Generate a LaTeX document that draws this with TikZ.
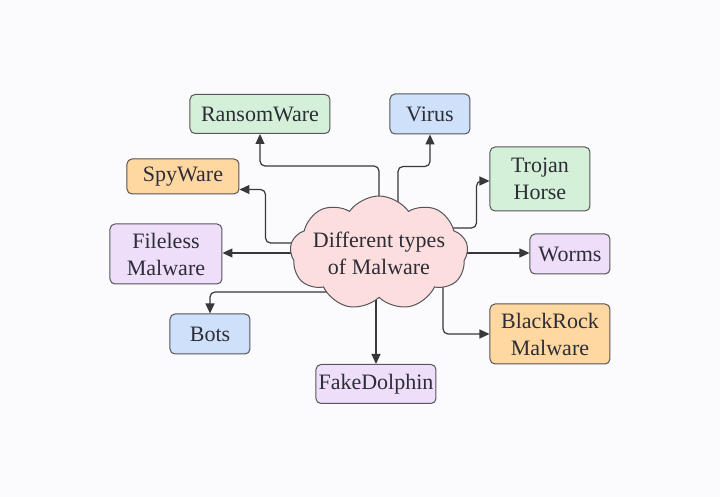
\documentclass[tikz,border=0pt]{standalone}
\usepackage{fontspec}
\setmainfont{Liberation Serif}
\usetikzlibrary{shapes.symbols,arrows.meta,calc,backgrounds}
\definecolor{pagebg}{RGB}{251,250,252}
\definecolor{edgegray}{RGB}{85,85,90}
\definecolor{linegray}{RGB}{55,55,60}
\definecolor{textgray}{RGB}{45,45,55}
\definecolor{mgreen}{RGB}{212,240,216}
\definecolor{mblue}{RGB}{206,224,250}
\definecolor{morange}{RGB}{255,215,160}
\definecolor{mpurple}{RGB}{238,222,250}
\definecolor{mpink}{RGB}{253,222,222}
\begin{document}
\begin{tikzpicture}[x=0.5pt,y=-0.5pt,font=\fontsize{11}{13.5}\selectfont,
  box/.style={draw=edgegray,line width=0.5pt,rounded corners=2.5pt,inner sep=0pt,align=center,text=textgray},
  link/.style={draw=linegray,line width=0.6pt,rounded corners=2.5pt,-{Triangle[length=5pt,width=4.5pt]}}]
\useasboundingbox(0,0)rectangle(720,497);
% centre
\node[cloud,cloud puffs=9,cloud puff arc=110,cloud ignores aspect,draw=edgegray,line width=0.5pt,fill=mpink,text=textgray,align=center,minimum width=89pt,minimum height=57pt,inner xsep=-25pt,inner ysep=-12pt](cloud)at(379,253){Different types\\of Malware};
% kinds
\node[box,fill=mgreen,minimum width=70pt,minimum height=19.5pt](ransom)at(260,114){RansomWare};
\node[box,fill=mblue,minimum width=40pt,minimum height=20pt](virus)at(430,114){Virus};
\node[box,fill=morange,minimum width=56pt,minimum height=17.5pt](spy)at(183,176.5){SpyWare};
\node[box,fill=mgreen,minimum width=50pt,minimum height=32pt](trojan)at(540,179){Trojan\\Horse};
\node[box,fill=mpurple,minimum width=56pt,minimum height=30pt](fileless)at(166,254){Fileless\\Malware};
\node[box,fill=mpurple,minimum width=40pt,minimum height=20pt](worms)at(570,254){Worms};
\node[box,fill=mblue,minimum width=40pt,minimum height=20pt](bots)at(210,334){Bots};
\node[box,fill=mpurple,minimum width=60pt,minimum height=19.5pt](fake)at(376,384){FakeDolphin};
\node[box,fill=morange,minimum width=60pt,minimum height=30pt](black)at(550,334){BlackRock\\Malware};
\begin{pgfonlayer}{background}
\fill[pagebg](0,0)rectangle(720,497);
\draw[link](cloud.center)|-($(ransom.south)+(0,32)$)--(ransom.south);
\draw[link]($(cloud.center)+(19,0)$)|-($(virus.south)+(0,32)$)--(virus.south);
\draw[link]($(cloud.center)+(0,-10)$)-|($(spy.south east)+(26,-5)$)--($(spy.south east)+(0,-5)$);
\draw[link]($(cloud.center)+(0,-25)$)-|($(trojan.west)+(-13,2)$)--($(trojan.west)+(0,2)$);
\draw[link](cloud.center)--(cloud.center-|fileless.east);
\draw[link](cloud.center)--(cloud.center-|worms.west);
\draw[link]($(cloud.center)+(0,39)$)-|(bots.north);
\draw[link](cloud.center-|fake.north)--(fake.north);
\draw[link]($(cloud.center)+(64,0)$)|-(black.west);
\end{pgfonlayer}
\end{tikzpicture}
\end{document}
